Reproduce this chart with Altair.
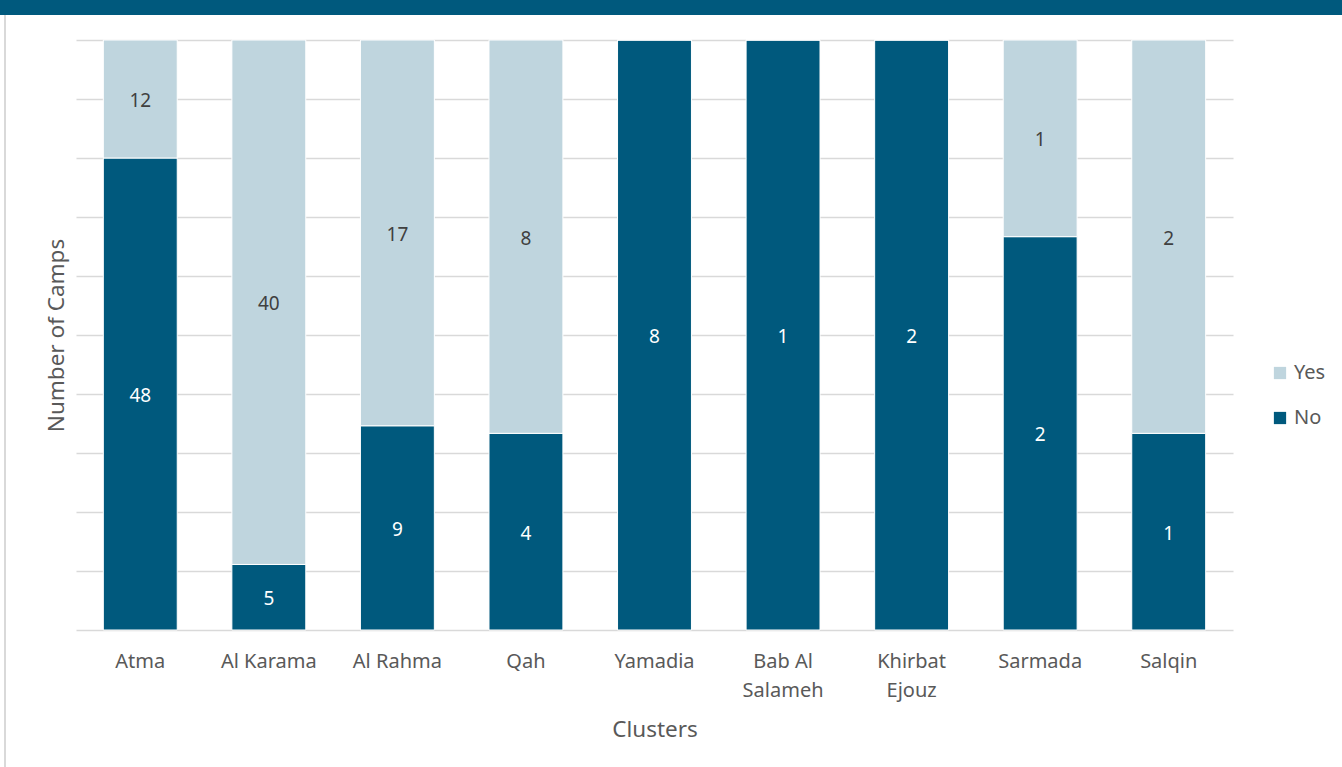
import altair as alt
import pandas as pd

clusters = ["Atma", "Al Karama", "Al Rahma", "Qah", "Yamadia",
            "Bab Al\nSalameh", "Khirbat\nEjouz", "Sarmada", "Salqin"]
no_counts = [48, 5, 9, 4, 8, 1, 2, 2, 1]
yes_counts = [12, 40, 17, 8, 0, 0, 0, 1, 2]
answers = ["Yes", "No"]
colors = ["#BFD5DE", "#00597D"]

rows = []
for c, n, y in zip(clusters, no_counts, yes_counts):
    rows.append({"cluster": c, "answer": "No", "order": 0, "count": n})
    rows.append({"cluster": c, "answer": "Yes", "order": 1, "count": y})
df = pd.DataFrame(rows)

FONT = "Noto Sans"
W, H = 1157, 590

base = alt.Chart(df).transform_stack(
    stack="count", groupby=["cluster"], as_=["y0", "y1"],
    offset="normalize", sort=[alt.SortField("order", order="ascending")]
).transform_calculate(mid="(datum.y0 + datum.y1) / 2")

x_enc = alt.X("cluster:N", sort=clusters,
              scale=alt.Scale(paddingInner=0.425, paddingOuter=0.2125),
              axis=alt.Axis(title="Clusters", labelAngle=0, labelFont=FONT,
                            labelFontSize=20, labelColor="#595959", labelPadding=21,
                            ticks=False, domain=False, grid=False,
                            labelExpr="split(datum.label, '\\n')", labelLineHeight=29,
                            titleFont=FONT, titleFontSize=22.5, titleFontWeight="normal",
                            titleColor="#595959", titlePadding=18))

bars = base.mark_bar(stroke="white", strokeWidth=1).encode(
    x=x_enc,
    y=alt.Y("y0:Q", scale=alt.Scale(domain=[0, 1]),
            axis=alt.Axis(title="Number of Camps", labels=False, ticks=False, domain=False,
                          grid=True, tickCount=10, gridColor="#D9D9D9", gridWidth=1.5,
                          titleFont=FONT, titleFontSize=22.5, titleFontWeight="normal",
                          titleColor="#595959", titlePadding=8)),
    y2="y1:Q",
    color=alt.Color("answer:N", scale=alt.Scale(domain=answers, range=colors),
                    legend=alt.Legend(title=None, orient="none", legendX=1194, legendY=323,
                                      symbolType="square", symbolSize=150,
                                      symbolStrokeWidth=0, labelFont=FONT,
                                      labelFontSize=20, labelColor="#595959",
                                      rowPadding=25, labelOffset=4)),
)

labels = base.transform_filter("datum.count > 0").mark_text(
    font=FONT, fontSize=19, dy=2
).encode(
    x=alt.X("cluster:N", sort=clusters),
    y=alt.Y("mid:Q"),
    text="count:Q",
    color=alt.condition("datum.answer == 'No'", alt.value("white"), alt.value("#404040")),
)

frame = pd.DataFrame({"k": [0]})
banner = alt.Chart(frame).mark_rect(color="#00597D").encode(
    x=alt.value(-76), x2=alt.value(1342 - 76), y=alt.value(-40), y2=alt.value(-25))
left_line = alt.Chart(frame).mark_rect(color="#D9D9D9").encode(
    x=alt.value(-72), x2=alt.value(-70), y=alt.value(-25), y2=alt.value(767 - 40))

chart = alt.layer(banner, left_line, bars, labels).properties(
    width=W, height=H,
    background="white",
    autosize=alt.AutoSizeParams(type="none"),
    padding={"left": 76, "top": 40, "right": 109, "bottom": 137},
).configure_view(stroke="transparent", strokeWidth=0)

chart.save("out.html", embed_options={"renderer": "svg", "actions": False})
